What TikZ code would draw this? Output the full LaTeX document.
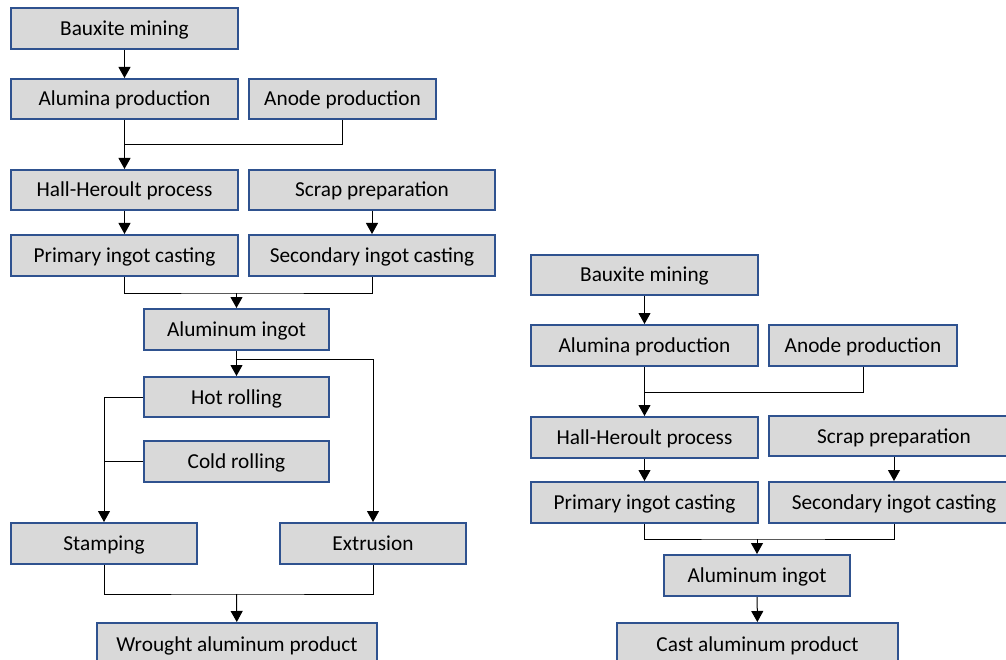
\documentclass[tikz,border=0pt]{standalone}
\usepackage{fontspec}
\setmainfont{Carlito}
\usetikzlibrary{arrows.meta}
\definecolor{boxfill}{RGB}{217,217,217}
\definecolor{boxline}{RGB}{47,82,143}
\tikzset{
  procbox/.style={draw=boxline, fill=boxfill, line width=2pt, inner sep=0pt,
    text height=17pt, text depth=3pt,
    font=\fontsize{21.3}{25}\selectfont, text=black},
  conn/.style={draw=black, line width=1pt},
  arr/.style={conn, -{Triangle[length=11pt,width=12pt]}},
}
\newcommand\mkbox[6]{%
  \node[procbox, minimum width={(#4-#2)*1pt}, minimum height={(#5-#3)*1pt}]
    (#1) at ({(#2+#4)/2},{(#3+#5)/2}) {#6};}
\begin{document}
\begin{tikzpicture}[x=1pt,y=-1pt]
\useasboundingbox (0,0) rectangle (1006,660);
% ---------- left diagram ----------
\mkbox{bm}{11}{8}{238}{49}{Bauxite mining}
\mkbox{ap}{11}{79}{238}{119}{Alumina production}
\mkbox{an}{249}{79}{436}{119}{Anode production}
\mkbox{hh}{11}{170}{238}{210}{Hall-Heroult process}
\mkbox{sp}{249}{170}{495}{210}{Scrap preparation}
\mkbox{pi}{11}{235}{238}{276}{Primary ingot casting}
\mkbox{si}{249}{235}{495}{276}{Secondary ingot casting}
\mkbox{ai}{144}{309}{329}{350}{Aluminum ingot}
\mkbox{hr}{144}{377}{329}{417}{Hot rolling}
\mkbox{cr}{144}{441}{329}{482}{Cold rolling}
\mkbox{st}{11}{523}{197}{564}{Stamping}
\mkbox{ex}{280}{523}{466}{564}{Extrusion}
\mkbox{wp}{97}{623}{377}{666}{Wrought aluminum product}
\coordinate (j1) at (124.5,145);
\coordinate (j2) at (236.5,293);
\coordinate (j3) at (236.5,359);
\coordinate (j4) at (236.5,594);
\draw[arr] (bm) -- (ap);
\draw[arr] (ap) -- (hh);
\draw[conn] (an.south) |- (j1);
\draw[arr] (hh) -- (pi);
\draw[arr] (sp) -- (si);
\draw[conn] (pi.south) |- (j2) -| (si.south);
\draw[arr] (j2) -- (ai);
\draw[arr] (ai) -- (hr);
\draw[arr] (j3) -| (ex);
\draw[arr] (hr.west) -| (st);
\draw[conn] (cr.west) -- (cr.west -| st);
\draw[conn] (st.south) |- (j4) -| (ex.south);
\draw[arr] (j4) -- (wp);
% ---------- right diagram ----------
\mkbox{rbm}{531}{255}{758}{295}{Bauxite mining}
\mkbox{rap}{531}{325}{758}{366}{Alumina production}
\mkbox{ran}{769}{325}{957}{366}{Anode production}
\mkbox{rhh}{531}{417}{758}{458}{Hall-Heroult process}
\mkbox{rsp}{769}{416}{1019}{456}{Scrap preparation}
\mkbox{rpi}{531}{482}{758}{523}{Primary ingot casting}
\mkbox{rsi}{769}{482}{1019}{523}{Secondary ingot casting}
\mkbox{rai}{664}{555}{850}{596}{Aluminum ingot}
\mkbox{rcp}{617}{623}{898}{666}{Cast aluminum product}
\coordinate (rj1) at (644.5,392);
\coordinate (rj2) at (757,539);
\draw[arr] (rbm) -- (rap);
\draw[arr] (rap) -- (rhh);
\draw[conn] (ran.south) |- (rj1);
\draw[arr] (rhh) -- (rpi);
\draw[arr] (rsp) -- (rsi);
\draw[conn] (rpi.south) |- (rj2) -| (rsi.south);
\draw[arr] (rj2) -- (rai);
\draw[arr] (rai) -- (rcp);
\end{tikzpicture}
\end{document}
